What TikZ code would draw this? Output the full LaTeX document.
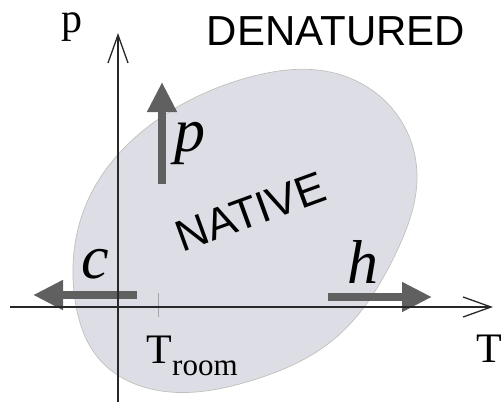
\documentclass[tikz,border=0pt]{standalone}
\usepackage{fontspec}
\setmainfont{Liberation Serif}
\newfontfamily\sansf{Liberation Sans}
\usetikzlibrary{arrows.meta,hobby}
\definecolor{regionfill}{RGB}{221,222,229}
\definecolor{regionedge}{RGB}{192,192,186}
\definecolor{arrowgray}{RGB}{96,96,96}
\definecolor{axisgray}{RGB}{40,40,40}
\tikzset{
  axisline/.style={draw=axisgray, line width=1.3pt, -{Straight Barb[length=28pt,width=20pt,line width=1.3pt]}},
  thickarrow/.style={draw=arrowgray, line width=8pt, -{Triangle[length=30pt,width=28pt]}},
  mathlbl/.style={font=\fontsize{62}{70}\selectfont\itshape, inner sep=0pt, anchor=base},
  serifbig/.style={font=\fontsize{42}{50}\selectfont, inner sep=0pt},
  sansbig/.style={font=\sansf\fontsize{42}{50}\selectfont, inner sep=0pt},
}
\begin{document}
\begin{tikzpicture}[x=1pt,y=-1pt]
\useasboundingbox (0,0) rectangle (502,402);
% native region
\draw[fill=regionfill, draw=regionedge, line width=0.7pt, use Hobby shortcut, closed=true]
  (75,300) .. (88,200) .. (160,118) .. (250,77) .. (330,72) .. (395,112)
  .. (417,175) .. (395,255) .. (333,340) .. (250,381) .. (170,392) .. (100,360);
% Troom tick
\coordinate (tk1) at (158,293);
\coordinate (tk2) at (158,317);
\draw[gray!70, line width=0.8pt] (tk1) -- (tk2);
% thick gray arrows
\coordinate (ps) at (162,184);
\coordinate (pe) at (162,82);
\coordinate (cs) at (137,295);
\coordinate (ce) at (33,295);
\coordinate (hs) at (328,297);
\coordinate (he) at (432,297);
\draw[thickarrow] (ps) -- (pe);
\draw[thickarrow] (cs) -- (ce);
\draw[thickarrow] (hs) -- (he);
% axes
\coordinate (yb) at (118,402);
\coordinate (yt) at (118,33);
\coordinate (xl) at (10,307);
\coordinate (xr) at (493,307);
\draw[axisline] (yb) -- (yt);
\draw[axisline] (xl) -- (xr);
% labels
\node[serifbig, anchor=base] (plab) at (72,32) {p};
\node[sansbig, anchor=base] (den) at (336,45) {DENATURED};
\node[font=\sansf\fontsize{44}{52}\selectfont, inner sep=0pt, anchor=base, rotate=20] (nat) at (256,226) {NATIVE};
\node[mathlbl] (pl) at (190,151) {p};
\node[mathlbl] (cl) at (95,278) {c};
\node[mathlbl] (hl) at (363,283) {h};
\node[serifbig, anchor=base] (troomT) at (159.5,363) {T};
\node[font=\fontsize{31}{36}\selectfont, inner sep=0pt, anchor=base west] (room) at (172,375) {room};
\node[serifbig, anchor=base west] (tlab) at (476,362) {T};
\end{tikzpicture}
\end{document}
